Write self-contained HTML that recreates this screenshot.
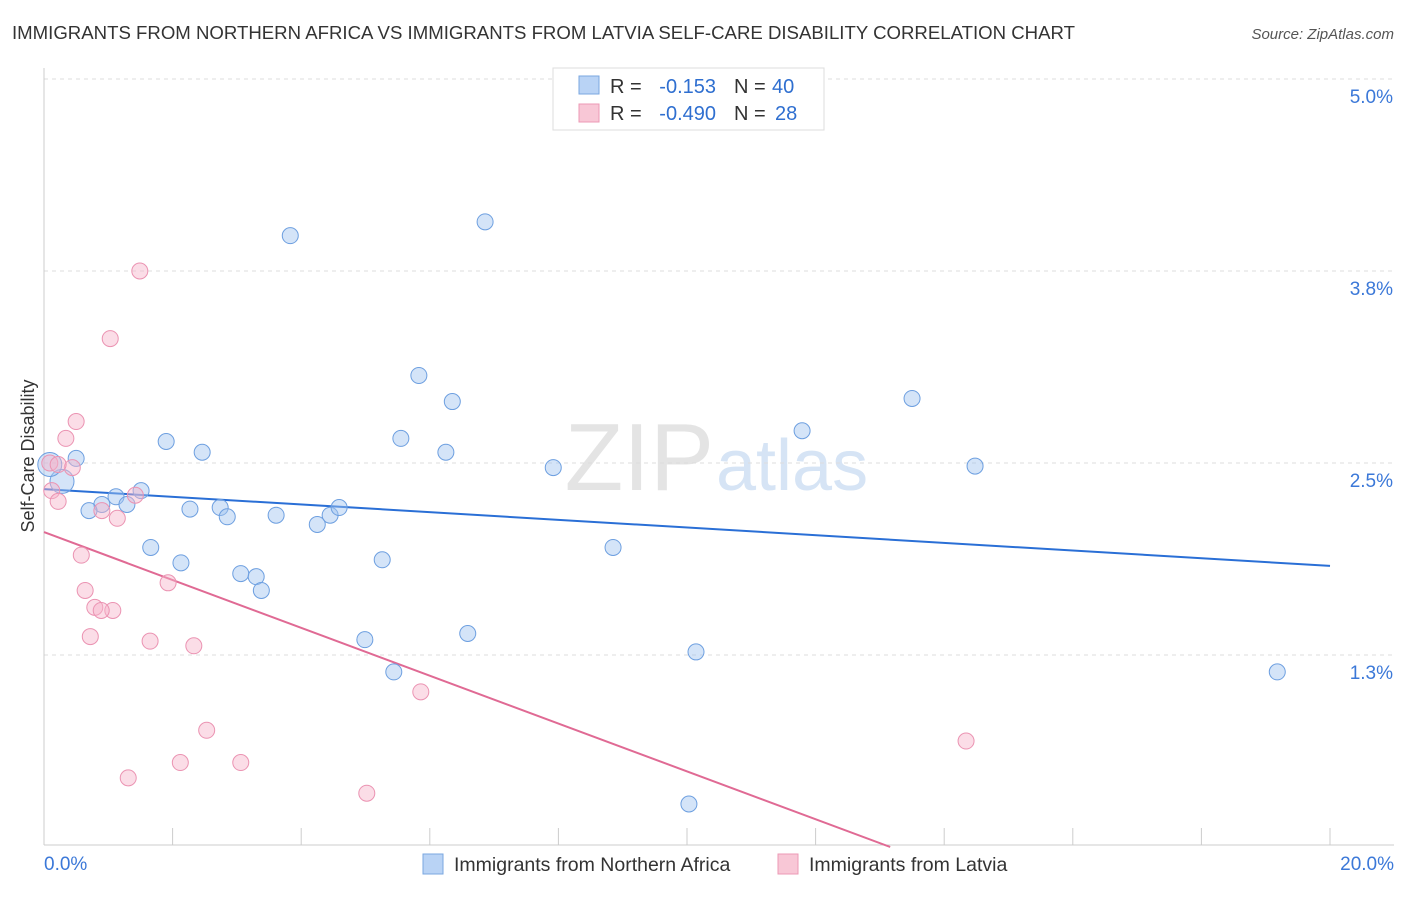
<!DOCTYPE html>
<html><head><meta charset="utf-8"><style>
body{margin:0;background:#fff;font-family:"Liberation Sans",sans-serif}
svg text{font-family:"Liberation Sans",sans-serif}
</style></head><body>
<svg id="chart" width="1406" height="892" xmlns="http://www.w3.org/2000/svg">
<text x="12" y="39" font-size="18" fill="#333" textLength="1063" lengthAdjust="spacingAndGlyphs">IMMIGRANTS FROM NORTHERN AFRICA VS IMMIGRANTS FROM LATVIA SELF-CARE DISABILITY CORRELATION CHART</text>
<text x="1394" y="39" font-size="15" fill="#555" font-style="italic" text-anchor="end">Source: ZipAtlas.com</text>
<text x="714" y="490" font-size="96" fill="#e4e4e4" font-family="Liberation Serif" text-anchor="end">ZIP</text>
<text x="716" y="490" font-size="72" fill="#d6e4f5">atlas</text>
<g id="grid"></g><g id="axes"></g><g id="trend"></g><g id="pts"></g>
<text transform="translate(34,456) rotate(-90)" font-size="18" fill="#333" text-anchor="middle">Self-Care Disability</text>
<g>
<rect x="553" y="68" width="271" height="62" fill="#fff" stroke="#ddd"/>
<rect x="579" y="76" width="20" height="18" fill="#b9d3f5" stroke="#7aa7e0"/>
<text x="610" y="93" font-size="20" fill="#333">R =</text>
<text x="716" y="93" font-size="20" fill="#2f6fd0" text-anchor="end">-0.153</text>
<text x="734" y="93" font-size="20" fill="#333">N =</text>
<text x="772" y="93" font-size="20" fill="#2f6fd0">40</text>
<rect x="579" y="104" width="20" height="18" fill="#f8c7d6" stroke="#ec9ab5"/>
<text x="610" y="120" font-size="20" fill="#333">R =</text>
<text x="716" y="120" font-size="20" fill="#2f6fd0" text-anchor="end">-0.490</text>
<text x="734" y="120" font-size="20" fill="#333">N =</text>
<text x="775" y="120" font-size="20" fill="#2f6fd0">28</text>
</g>
<g>
<rect x="423" y="854" width="20" height="20" fill="#b9d3f5" stroke="#7aa7e0"/>
<text x="454" y="871" font-size="19.5" fill="#333">Immigrants from Northern Africa</text>
<rect x="778" y="854" width="20" height="20" fill="#f8c7d6" stroke="#ec9ab5"/>
<text x="809" y="871" font-size="19.5" fill="#333">Immigrants from Latvia</text>
</g>
</svg>
<script>
const xTicks=[0,2,4,6,8,10,12,14,16,18,20];
const yTicks=[5.0,3.75,2.5,1.25];
const yTickLabels=["5.0%","3.8%","2.5%","1.3%"];
const blueX=[3.83,6.86,5.83,6.35,5.55,6.25,1.90,2.46,0.50,0.28,7.92,11.79,13.50,14.48,1.51,1.12,0.90,0.70,1.29,2.27,2.74,2.85,3.61,4.25,4.45,4.59,1.66,2.13,3.06,3.30,3.38,5.26,8.85,4.99,6.59,5.44,10.14,19.18,10.03,0.09];
const blueY=[3.98,4.07,3.07,2.90,2.66,2.57,2.64,2.57,2.53,2.38,2.47,2.71,2.92,2.48,2.32,2.28,2.23,2.19,2.23,2.20,2.21,2.15,2.16,2.10,2.16,2.21,1.95,1.85,1.78,1.76,1.67,1.87,1.95,1.35,1.39,1.14,1.27,1.14,0.28,2.49];
const pinkX=[1.49,1.03,0.50,0.34,0.09,0.44,0.22,0.12,0.22,1.42,0.90,1.14,0.58,0.64,1.93,0.79,1.07,0.89,0.72,1.65,2.33,5.86,2.53,14.34,2.12,3.06,1.31,5.02];
const pinkY=[3.75,3.31,2.77,2.66,2.50,2.47,2.49,2.32,2.25,2.29,2.19,2.14,1.90,1.67,1.72,1.56,1.54,1.54,1.37,1.34,1.31,1.01,0.76,0.69,0.55,0.55,0.45,0.35];
const blueTrend=[2.33,1.83];
const pinkTrend=[2.05,0.0,13.16];
const NS="http://www.w3.org/2000/svg";
const X=v=>44+v*64.3, Y=v=>847-v*153.6;
function mk(t,a,p){const e=document.createElementNS(NS,t);for(const k in a)e.setAttribute(k,a[k]);p.appendChild(e);return e;}
const grid=document.getElementById('grid'),axes=document.getElementById('axes'),tr=document.getElementById('trend'),pts=document.getElementById('pts');
yTicks.forEach((v,i)=>{
 const l=mk('line',{x1:44,x2:1394,y1:Y(v),y2:Y(v),stroke:'#ddd','stroke-dasharray':'4,4'},grid);
 
 
 const t=mk('text',{x:1393,y:Y(v)+24,'font-size':19,fill:'#3b78d8','text-anchor':'end'},axes);t.textContent=yTickLabels[i];
 
 
});
const ax=mk('line',{x1:44,x2:1394,y1:845,y2:845,stroke:'#ccc'},axes);


const ay=mk('line',{x1:44,x2:44,y1:68,y2:845,stroke:'#ccc'},axes);


xTicks.forEach(v=>{const l=mk('line',{x1:X(v),x2:X(v),y1:828,y2:845,stroke:'#ccc'},axes);
 
 });
[[0,"0.0%","start",44],[20,"20.0%","end",1394]].forEach(d=>{const t=mk('text',{x:d[3],y:870,'font-size':19,fill:'#3b78d8','text-anchor':d[2]},axes);t.textContent=d[1];
 
 });
const bl=mk('line',{x1:X(0),y1:Y(blueTrend[0]),x2:X(20),y2:Y(blueTrend[1]),stroke:'#2a6fd6','stroke-width':2},tr);


const pl=mk('line',{x1:X(0),y1:Y(pinkTrend[0]),x2:X(pinkTrend[2]),y2:Y(pinkTrend[1]),stroke:'#e06a94','stroke-width':2},tr);


blueX.forEach((x,i)=>{const c=mk('circle',{cx:X(x),cy:Y(blueY[i]),r:(i==9||i==39)?12:8,fill:'rgba(160,196,240,0.45)',stroke:'#6d9fe0','stroke-width':1},pts);
 
 });
pinkX.forEach((x,i)=>{const c=mk('circle',{cx:X(x),cy:Y(pinkY[i]),r:8,fill:'rgba(246,180,202,0.45)',stroke:'#eb93b2','stroke-width':1},pts);
 
 });
</script>
</body></html>
